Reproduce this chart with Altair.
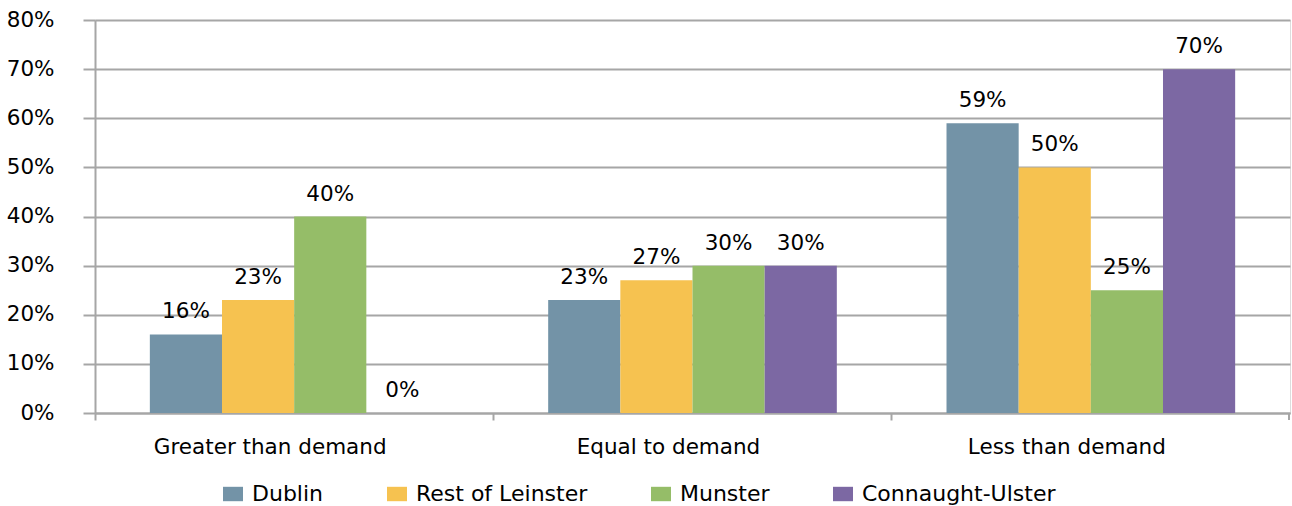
import altair as alt
import pandas as pd

# Survey responses: supply relative to demand, by region
categories = ["Greater than demand", "Equal to demand", "Less than demand"]
regions = ["Dublin", "Rest of Leinster", "Munster", "Connaught-Ulster"]
colors = ["#7393A7", "#F6C250", "#95BD68", "#7C68A3"]

dublin = [0.16, 0.23, 0.59]
rest_of_leinster = [0.23, 0.27, 0.50]
munster = [0.40, 0.30, 0.25]
connaught_ulster = [0.00, 0.30, 0.70]

series = {
    "Dublin": dublin,
    "Rest of Leinster": rest_of_leinster,
    "Munster": munster,
    "Connaught-Ulster": connaught_ulster,
}

rows = []
for region, vals in series.items():
    for cat, v in zip(categories, vals):
        rows.append({"category": cat, "region": region, "share": v})
df = pd.DataFrame(rows)

FONT = "DejaVu Sans"
GRID = "#A6A6A6"
W, H = 1195, 393

x = alt.X(
    "category:N",
    sort=categories,
    title=None,
    scale=alt.Scale(paddingInner=0, paddingOuter=0),
    axis=alt.Axis(
        bandPosition=0,
        labelAngle=0,
        labelFont=FONT,
        labelFontSize=21.5,
        labelColor="#000000",
        labelPadding=16,
        labelOffset=-24,
        labelLimit=0,
        tickSize=7,
        tickColor=GRID,
        tickWidth=2,
        domainColor=GRID,
        domainWidth=2,
        grid=False,
    ),
)
x_off = alt.XOffset(
    "region:N",
    sort=regions,
    scale=alt.Scale(paddingInner=0, paddingOuter=0.76),
)
y = alt.Y(
    "share:Q",
    title=None,
    scale=alt.Scale(domain=[0, 0.8], nice=False),
    axis=alt.Axis(
        format=".0%",
        values=[i / 10 for i in range(9)],
        labelFont=FONT,
        labelFontSize=21.5,
        labelColor="#000000",
        labelPadding=29,
        tickSize=12,
        tickColor=GRID,
        tickWidth=2,
        domainColor=GRID,
        domainWidth=2,
        gridColor=GRID,
        gridWidth=2,
    ),
)

bars = alt.Chart(df).mark_bar().encode(
    x=x,
    xOffset=x_off,
    y=y,
    color=alt.Color(
        "region:N",
        sort=regions,
        scale=alt.Scale(domain=regions, range=colors),
        legend=alt.Legend(
            title=None,
            orient="none",
            direction="horizontal",
            legendX=127,
            legendY=463,
            columns=4,
            columnPadding=62,
            labelFont=FONT,
            labelFontSize=22,
            labelColor="#000000",
            labelOffset=8,
            labelLimit=0,
            symbolType="M-1,-0.72H1V0.72H-1Z",
            symbolSize=400,
            symbolStrokeWidth=0,
            padding=0,
        ),
    ),
)

labels = alt.Chart(df).mark_text(
    font=FONT, fontSize=21.5, color="#000000", baseline="alphabetic", dy=-16
).encode(
    x=alt.X("category:N", sort=categories),
    xOffset=x_off,
    y=alt.Y("share:Q"),
    text=alt.Text("share:Q", format=".0%"),
)

# closing tick at the right end of the category axis
edge_tick = alt.Chart(pd.DataFrame({"edge": [0]})).mark_rule(
    color=GRID, strokeWidth=2
).encode(x=alt.value(W - 1), y=alt.value(H), y2=alt.value(H + 7))

chart = (
    alt.layer(bars, labels, edge_tick)
    .properties(
        width=W,
        height=H,
        autosize=alt.AutoSizeParams(type="none"),
        padding={"left": 95, "top": 20, "right": 2, "bottom": 93},
    )
    .configure_view(stroke=None)
    .configure(background="#FFFFFF")
)

chart.save("out.html", embed_options={"renderer": "svg", "actions": False})
